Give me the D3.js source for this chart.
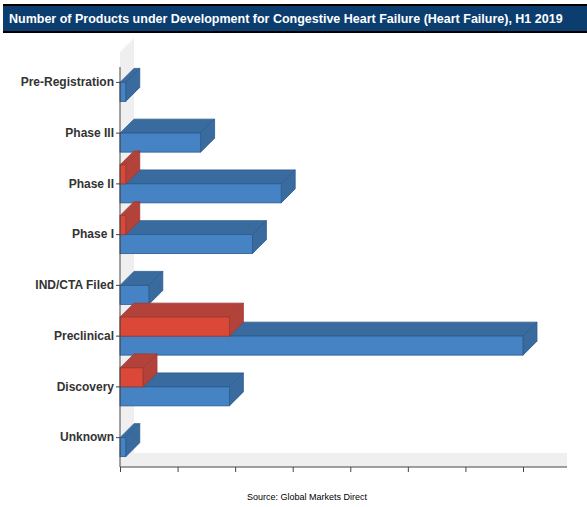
<!DOCTYPE html>
<html><head><meta charset="utf-8">
<script src="https://cdn.jsdelivr.net/npm/d3@7"></script>
<style>body{margin:0;background:#fff;font-family:"Liberation Sans",Arial,sans-serif}</style>
</head><body><svg id="c" width="587" height="507"></svg>
<script>
var categories = ["Pre-Registration", "Phase III", "Phase II", "Phase I", "IND/CTA Filed", "Preclinical", "Discovery", "Unknown"];
var blueValues = [1, 14, 28, 23, 5, 70, 19, 1];
var redValues = [0, 0, 1, 1, 0, 19, 4, 0];
var tickValues = [0, 10, 20, 30, 40, 50, 60, 70];

var svg = d3.select("#c");
var pL = 120, pR = 567, pT = 57, pB = 467, dx = 14, dy = -14, barH = 19;

svg.append("rect").attr("x", 3).attr("y", 4).attr("width", 584).attr("height", 29).attr("fill", "#000");
svg.append("rect").attr("x", 3).attr("y", 6).attr("width", 584).attr("height", 25).attr("fill", "#0b3d6f");
svg.append("text").attr("x", 9).attr("y", 23).attr("fill", "#fff").attr("font-size", 12.5)
    .attr("font-weight", "bold").text("Number of Products under Development for Congestive Heart Failure (Heart Failure), H1 2019");

var x = d3.scaleLinear().domain([0, 70]).range([pL, pL + 403]);
var y = d3.scaleBand().domain(categories).range([pT, pB - 4]);

// back wall and floor
svg.append("path").attr("fill", "#efefef")
    .attr("d", "M" + pL + "," + (pT - 5) + "L" + (pL + dx) + "," + (pT - 5 + dy) + "L" + (pL + dx) + "," + (pB + dy) + "L" + pR + "," + (pB + dy) + "L" + pR + "," + pB + "L" + pL + "," + pB + "Z");

function bar(v, yTop, front, dark, stroke) {
    var x0 = x(0), x1 = x(v), g = svg.append("g").attr("stroke", stroke).attr("stroke-width", 0.8);
    g.append("path").attr("fill", dark).attr("d", "M" + x0 + "," + yTop + "L" + (x0 + dx) + "," + (yTop + dy) + "L" + (x1 + dx) + "," + (yTop + dy) + "L" + x1 + "," + yTop + "Z");
    g.append("path").attr("fill", dark).attr("d", "M" + x1 + "," + yTop + "L" + (x1 + dx) + "," + (yTop + dy) + "L" + (x1 + dx) + "," + (yTop + barH + dy) + "L" + x1 + "," + (yTop + barH) + "Z");
    g.append("rect").attr("x", x0).attr("y", yTop).attr("width", x1 - x0).attr("height", barH).attr("fill", front);
}

categories.forEach(function (c, i) {
    var cy = y(c) + y.bandwidth() / 2;
    bar(blueValues[i], cy, "#4683c5", "#3a6b9f", "#2b5b8f");
    if (redValues[i] > 0) bar(redValues[i], cy - barH, "#dc4838", "#b3433a", "#9a3a32");
});

var xa = svg.append("g").attr("transform", "translate(0," + pB + ")")
    .call(d3.axisBottom(x).tickValues(tickValues).tickSize(5).tickFormat(""));
xa.select(".domain").attr("d", "M" + pL + ",0H" + pR).attr("stroke", "#444");
xa.selectAll(".tick line").attr("stroke", "#444");

var ya = svg.append("g").attr("transform", "translate(" + pL + ",0)")
    .call(d3.axisLeft(y).tickSize(4).tickPadding(2));
ya.select(".domain").attr("d", "M0," + (pT + 10) + "V" + pB).attr("stroke", "#444");
ya.selectAll(".tick line").attr("stroke", "#444");
ya.selectAll(".tick text").attr("font-size", 12).attr("font-weight", "bold").attr("fill", "#333")
    .attr("font-family", "Liberation Sans, Arial, sans-serif");

svg.append("text").attr("x", 307).attr("y", 500).attr("text-anchor", "middle").attr("font-size", 9)
    .attr("fill", "#000").text("Source: Global Markets Direct");
</script></body></html>
